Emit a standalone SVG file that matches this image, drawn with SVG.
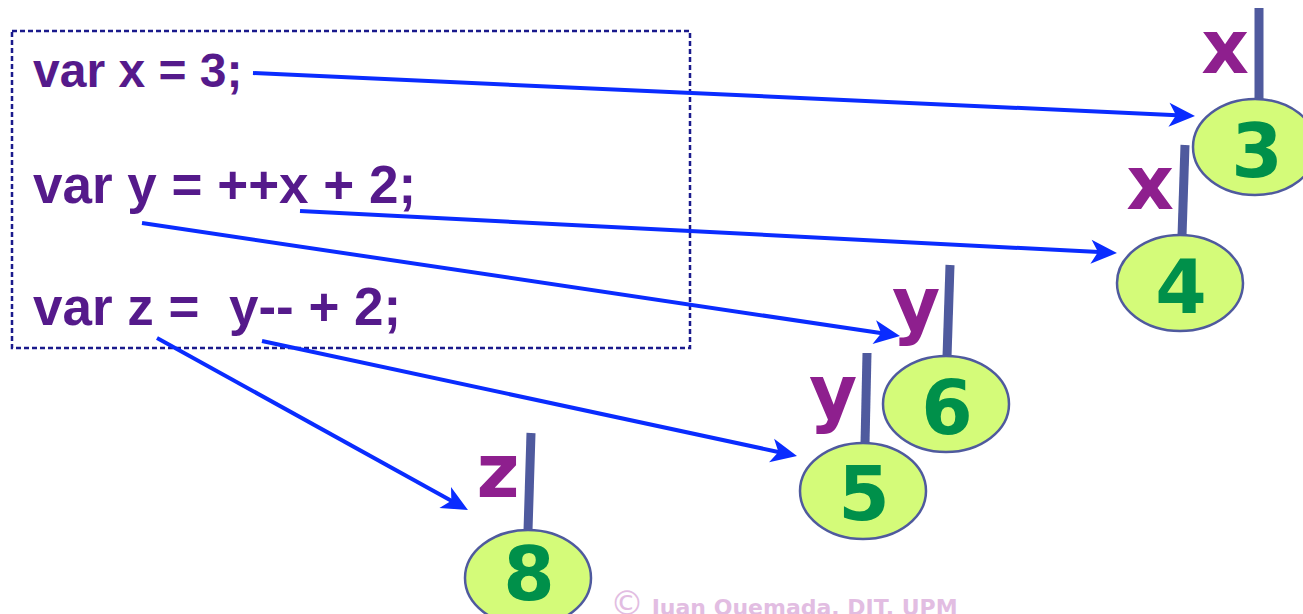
<svg xmlns="http://www.w3.org/2000/svg" width="1303" height="614" viewBox="0 0 1303 614">
<style>
.code{font-family:"Liberation Sans",Arial,sans-serif;font-weight:bold;fill:#551A8B;white-space:pre}
.lbl{font-family:"DejaVu Sans",Verdana,sans-serif;font-weight:bold;fill:#8E1F8E;font-size:74px;text-anchor:middle}
.num{font-family:"DejaVu Sans",Verdana,sans-serif;font-weight:bold;fill:#00904A;font-size:74px;text-anchor:middle}
.cell{fill:#D4FB79;stroke:#4F5A9E;stroke-width:2.5}
.bar{stroke:#4F5A9E;stroke-width:9;fill:none}
.arr{stroke:#0A2CFF;stroke-width:4;fill:none;marker-end:url(#ah)}
.copy{font-family:"DejaVu Sans",Verdana,sans-serif;font-weight:bold;fill:#E2BDE2;font-size:22px}
</style>
<defs>
<marker id="ah" markerUnits="userSpaceOnUse" viewBox="-10 -14 30 28" markerWidth="30" markerHeight="28" refX="0" refY="0" orient="auto">
<path d="M18,0 L-8,-12 L-1,0 L-8,12 Z" fill="#0A2CFF"/>
</marker>
</defs>
<rect width="1303" height="614" fill="#FFFFFF"/>
<g id="code">
<rect x="12" y="31" width="678" height="317" fill="none" stroke="#1A1A8C" stroke-width="2.5" stroke-dasharray="5 3"/>
<text class="code" x="33" y="87" font-size="48">var x = 3;</text>
<text class="code" x="33" y="203" font-size="53">var y = ++x + 2;</text>
<text class="code" x="33" y="325" font-size="53">var z =  y-- + 2;</text>
</g>
<g id="connectors">
<line class="arr" x1="253" y1="73" x2="1177" y2="115.2"/>
<line class="arr" x1="300" y1="211" x2="1099" y2="252.1"/>
<line class="arr" x1="142" y1="223" x2="882.2" y2="333.3"/>
<line class="arr" x1="262" y1="341" x2="779.4" y2="452.2"/>
<line class="arr" x1="157" y1="338" x2="452.2" y2="501.3"/>
</g>
<g id="cell3">
<line class="bar" x1="1259" y1="8" x2="1259" y2="101"/>
<ellipse class="cell" cx="1255" cy="147" rx="62" ry="48"/>
<text class="lbl" x="1225" y="73">x</text>
<text class="num" x="1257" y="177">3</text>
</g>
<g id="cell4">
<line class="bar" x1="1185" y1="145" x2="1182" y2="236"/>
<ellipse class="cell" cx="1180" cy="283" rx="63" ry="48"/>
<text class="lbl" x="1150" y="209">x</text>
<text class="num" x="1181" y="313">4</text>
</g>
<g id="cell6">
<line class="bar" x1="950" y1="265" x2="947" y2="357"/>
<ellipse class="cell" cx="946" cy="404" rx="63" ry="48"/>
<text class="lbl" x="916" y="330">y</text>
<text class="num" x="947" y="434">6</text>
</g>
<g id="cell5">
<line class="bar" x1="867" y1="353" x2="865" y2="444"/>
<ellipse class="cell" cx="863" cy="491" rx="63" ry="48"/>
<text class="lbl" x="833" y="418">y</text>
<text class="num" x="864" y="520">5</text>
</g>
<g id="cell8">
<line class="bar" x1="531" y1="433" x2="528" y2="531"/>
<ellipse class="cell" cx="528" cy="578" rx="63" ry="48"/>
<text class="lbl" x="498" y="497">z</text>
<text class="num" x="529" y="600">8</text>
</g>
<text class="copy" x="610" y="615"><tspan font-size="34" font-weight="normal">©</tspan> Juan Quemada, DIT, UPM</text>
</svg>
